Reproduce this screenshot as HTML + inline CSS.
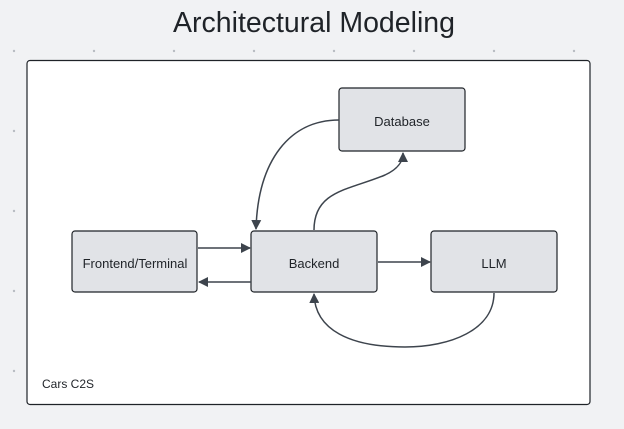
<!DOCTYPE html>
<html><head><style>
html,body{margin:0;padding:0;width:624px;height:429px;background:#f1f2f4;overflow:hidden;font-family:"Liberation Sans",sans-serif;}
</style></head><body>
<svg width="624" height="429" viewBox="0 0 624 429" xmlns="http://www.w3.org/2000/svg" style="position:absolute;left:0;top:0">
<defs>
<marker id="a" markerWidth="10" markerHeight="10" refX="9" refY="5" orient="auto" markerUnits="userSpaceOnUse">
<path d="M0,0 L10,5 L0,10 z" fill="#3d444d"/>
</marker>
</defs>
<text x="314" y="32" text-anchor="middle" font-size="28.5" fill="#1f2328" font-family="Liberation Sans, sans-serif">Architectural Modeling</text>
<g fill="#b8bcc2">
<circle cx="14" cy="51" r="1.2"/><circle cx="94" cy="51" r="1.2"/><circle cx="174" cy="51" r="1.2"/><circle cx="254" cy="51" r="1.2"/><circle cx="334" cy="51" r="1.2"/><circle cx="414" cy="51" r="1.2"/><circle cx="494" cy="51" r="1.2"/><circle cx="574" cy="51" r="1.2"/>
<circle cx="14" cy="131" r="1.2"/><circle cx="14" cy="211" r="1.2"/><circle cx="14" cy="291" r="1.2"/><circle cx="14" cy="371" r="1.2"/>
</g>
<rect x="27" y="60.5" width="563" height="344" rx="3" fill="#fff" stroke="#1f2328" stroke-width="1.2"/>
<text x="42" y="388" font-size="12" fill="#1f2328">Cars C2S</text>
<g fill="#e1e3e7" stroke="#1f2328" stroke-width="1.2">
<rect x="72" y="231" width="125" height="61" rx="3"/>
<rect x="251" y="231" width="126" height="61" rx="3"/>
<rect x="431" y="231" width="126" height="61" rx="3"/>
<rect x="339" y="88" width="126" height="63" rx="3"/>
</g>
<g font-size="13" fill="#1f2328" text-anchor="middle">
<text x="135" y="268">Frontend/Terminal</text>
<text x="314" y="268">Backend</text>
<text x="494" y="268">LLM</text>
<text x="402" y="126">Database</text>
</g>
<g fill="none" stroke="#3d444d" stroke-width="1.5">
<path d="M198,248 L250,248" marker-end="url(#a)"/>
<path d="M251,282 L199,282" marker-end="url(#a)"/>
<path d="M378,262 L430,262" marker-end="url(#a)"/>
<path d="M339,120 C290,120 258,160 256,229" marker-end="url(#a)"/>
<path d="M314,230 C314,190 350,190 385,175 C400,168 403,160 403,153" marker-end="url(#a)"/>
<path d="M494,293 C494,330 450,347 405,347 C350,347 315,330 314,294" marker-end="url(#a)"/>
</g>
</svg>
</body></html>
